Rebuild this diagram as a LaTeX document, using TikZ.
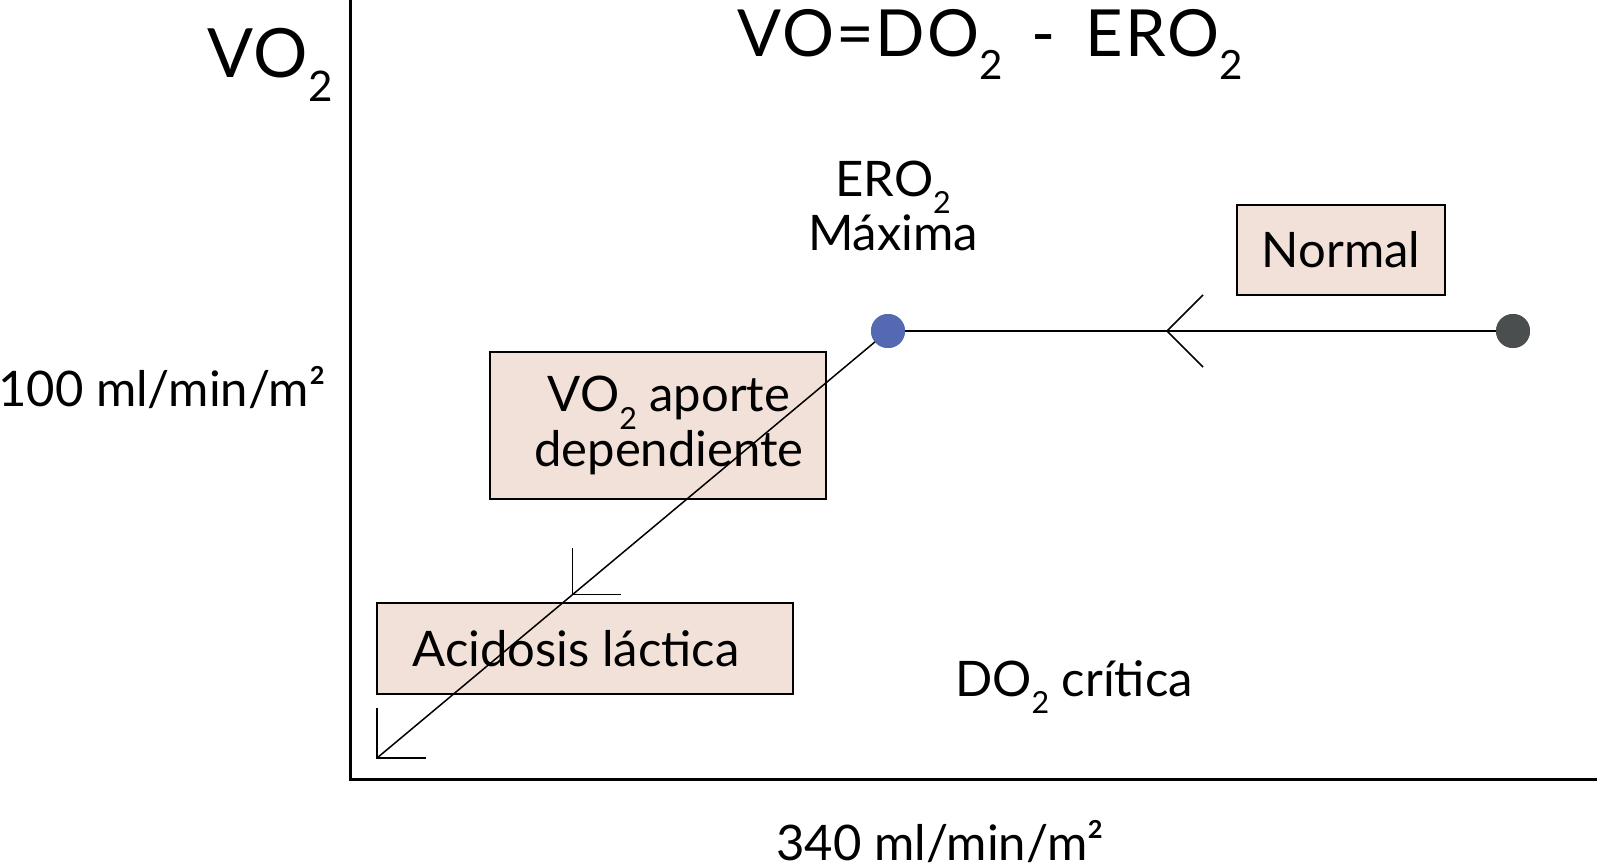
\documentclass[tikz,border=0pt]{standalone}
\usepackage{fontspec}
\setmainfont{Lato}
\newfontfamily\widefont[LetterSpace=3]{Lato}
\definecolor{boxfill}{HTML}{F2E1D9}
\definecolor{bluedot}{HTML}{5469B1}
\definecolor{graydot}{HTML}{4B4E4F}
\newcommand\sbs[1]{\raisebox{-0.36em}{\scalebox{0.62}{#1}}}
\begin{document}
\begin{tikzpicture}[x=1pt,y=-1pt,
  txt/.style={font=\fontsize{49}{58}\selectfont, inner sep=0pt},
  bigtxt/.style={font=\widefont\fontsize{65}{72}\selectfont, inner sep=0pt},
  pinkbox/.style={draw=black, line width=1.4pt, fill=boxfill, inner sep=0pt, font=\fontsize{49}{58}\selectfont, align=center},
  thin/.style={line width=1.5pt, black},
  axis/.style={line width=3pt, black},
  dot/.style={circle, inner sep=0pt, minimum size=34pt}]
\useasboundingbox (0,0) rectangle (1597,863);
% axes
\coordinate (ytop) at (350,0);
\coordinate (origin) at (350,779);
\coordinate (xend) at (1597,779);
\draw[axis] (ytop) -- (origin) -- (xend);
% labels
\node[bigtxt, font=\widefont\fontsize{68}{76}\selectfont, anchor=base west] (vo2) at (207,77) {VO\sbs{2}};
\node[bigtxt, anchor=base] (title) at (990,56) {VO=DO\sbs{2}\,\ -\ \,ERO\sbs{2}};
\node[txt, anchor=base] (ero) at (893,196) {ERO\sbs{2}};
\node[txt, anchor=base] (max) at (893,250) {Máxima};
\node[txt, anchor=base west] (yval) at (-2,406) {100 ml/min/m²};
\node[txt, anchor=base] (xval) at (940,860) {340 ml/min/m²};
\node[txt, anchor=base] (crit) at (1074,696) {DO\sbs{2} crítica};
% boxes
\node[pinkbox, minimum width=208pt, minimum height=90pt] (normal) at (1341,250) {Normal};
\node[pinkbox, minimum width=336pt, minimum height=147pt] (aporte) at (658,425.5) {\hspace*{22pt}VO\sbs{2} aporte\\[-3pt]\hspace*{22pt}dependiente};
\node[pinkbox, minimum width=416pt, minimum height=91pt] (acid) at (585,648.5) {\hspace*{-18pt}Acidosis láctica};
% dots
\node[dot, fill=bluedot] (blue) at (888,331) {};
\node[dot, fill=graydot] (gray) at (1513,331) {};
\coordinate (end) at (377,758);
% connectors
\draw[thin] (gray.center) -- (blue.center);
\draw[thin] (blue.center) -- (end);
% arrowheads
\coordinate (h) at (1167,331);
\draw[thin] ([shift={(36,-36)}]h) -- (h) -- ([shift={(36,36)}]h);
\coordinate (m) at (572.4,594.7);
\draw[thin] ([shift={(0,-47)}]m) -- (m) -- ([shift={(49,0)}]m);
\draw[thin] ([shift={(0,-50)}]end) -- (end) -- ([shift={(49,0)}]end);
\node[dot, fill=bluedot] at (blue) {};
\node[dot, fill=graydot] at (gray) {};
\end{tikzpicture}
\end{document}
